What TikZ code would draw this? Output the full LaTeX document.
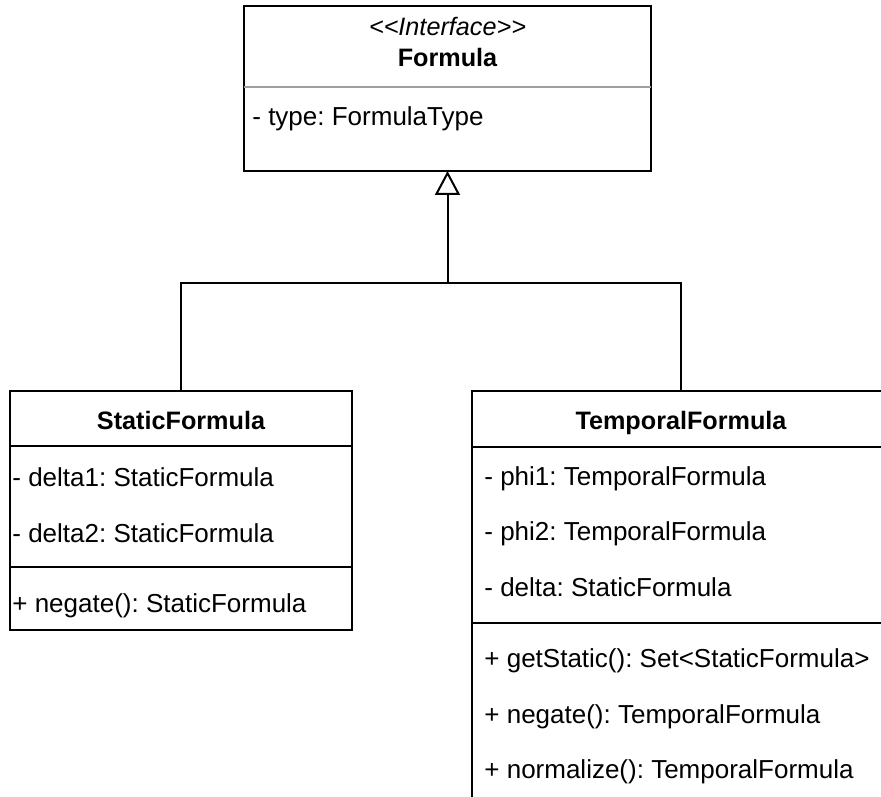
\documentclass[tikz,border=0pt]{standalone}
\usepackage{fontspec}
\newfontfamily\umlfont{Liberation Sans}
\usetikzlibrary{arrows.meta}

\begin{document}
\umlfont\frenchspacing\fontsize{12.6}{15}\selectfont
\begin{tikzpicture}[x=0.5pt, y=-0.5pt,
    classbox/.style={draw, line width=1pt, inner sep=0pt, outer sep=0pt, anchor=north west},
    member/.style={anchor=base west, inner sep=0pt, font=\fontsize{13}{15}\selectfont},
    classname/.style={anchor=base, inner sep=0pt, font=\bfseries},
    stereotype/.style={anchor=base, inner sep=0pt, font=\itshape}]
    \useasboundingbox (0,0) rectangle (881,796);
    \clip (0,0) rectangle (881,796);

    % interface
    \node[classbox, minimum width=203.5pt, minimum height=82.5pt] (formula) at (244,6) {};
    \node[stereotype] (formulastereo) at (447.5,36) {<<Interface>>};
    \node[classname] (formulaname) at (447.5,67) {Formula};
    \draw[gray!75, line width=1pt] (formula.west |- 0,87) -- (formula.east |- 0,87);
    \node[member] (formulatype) at (252,126) {- type: FormulaType};

    % static formula
    \node[classbox, minimum width=171pt, minimum height=119.5pt] (static) at (10,391) {};
    \node[classname] (staticname) at (181,429) {StaticFormula};
    \draw[line width=1pt] (static.west |- 0,446) -- (static.east |- 0,446);
    \node[member] (delta1) at (12,486) {- delta1: StaticFormula};
    \node[member] (delta2) at (12,542) {- delta2: StaticFormula};
    \draw[line width=1pt] (static.west |- 0,567) -- (static.east |- 0,567);
    \node[member] (staticneg) at (12,612) {+ negate(): StaticFormula};

    % temporal formula (runs past the right and bottom edge)
    \node[classbox, minimum width=215pt, minimum height=215pt] (temporal) at (472,391) {};
    \node[classname] (temporalname) at (681,429) {TemporalFormula};
    \coordinate (temporaltop) at (temporalname |- temporal.north);
    \draw[line width=1pt] (temporal.west |- 0,447) -- (temporal.east |- 0,447);
    \node[member] (phi1) at (484,485) {- phi1: TemporalFormula};
    \node[member] (phi2) at (484,540) {- phi2: TemporalFormula};
    \node[member] (delta) at (484,596) {- delta: StaticFormula};
    \draw[line width=1pt] (temporal.west |- 0,623) -- (temporal.east |- 0,623);
    \node[member] (getstatic) at (484,667) {+ getStatic(): Set<StaticFormula>};
    \node[member] (temporalneg) at (484,723) {+ negate(): TemporalFormula};
    \node[member] (normalize) at (484,778) {+ normalize(): TemporalFormula};

    % generalization
    \coordinate (fork) at (formula.south |- 0,283);
    \draw[line width=1pt] (static.north) |- (fork) -| (temporaltop);
    \draw[line width=1pt, -{Triangle[open, length=12pt, width=12.5pt]}] (fork) -- (formula.south);
\end{tikzpicture}
\end{document}
